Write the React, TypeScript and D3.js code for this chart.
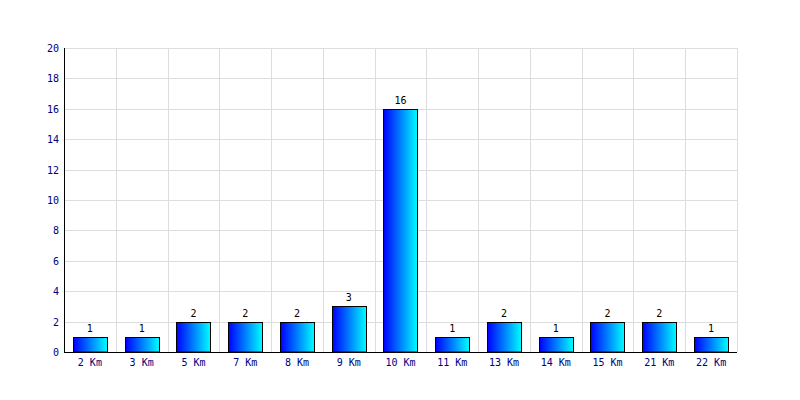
import React from "react";
import * as d3 from "d3";

const categories = ["2 Km", "3 Km", "5 Km", "7 Km", "8 Km", "9 Km", "10 Km", "11 Km", "13 Km", "14 Km", "15 Km", "21 Km", "22 Km"];
const values = [1, 1, 2, 2, 2, 3, 16, 1, 2, 1, 2, 2, 1];
const yTicks = [0, 2, 4, 6, 8, 10, 12, 14, 16, 18, 20];

export default function App() {
  const W = 800, H = 400;
  const left = 64, right = 737, top = 48, bottom = 352;
  const x = d3.scaleBand<string>().domain(categories).range([left, right]).paddingInner(0).paddingOuter(0);
  const y = d3.scaleLinear().domain([0, 20]).range([bottom, top]);
  const bw = x.bandwidth() * 0.66;
  const font = "'DejaVu Sans Mono', monospace";
  return (
    <svg width={W} height={H} style={{ position: "absolute", left: 0, top: 0, background: "#fff" }}>
      <defs>
        <linearGradient id="bg" x1="0" x2="1" y1="0" y2="0">
          <stop offset="0%" stopColor="#0000ff" />
          <stop offset="100%" stopColor="#00ffff" />
        </linearGradient>
      </defs>
      {yTicks.map((t) => (
        <line key={"h" + t} x1={left} x2={right} y1={Math.round(y(t)) + 0.5} y2={Math.round(y(t)) + 0.5} stroke="#dddddd" />
      ))}
      {categories.map((c) => (
        <line key={"v" + c} x1={Math.round(x(c)! + x.bandwidth()) + 0.5} x2={Math.round(x(c)! + x.bandwidth()) + 0.5} y1={top} y2={bottom} stroke="#dddddd" />
      ))}
      {categories.map((c, i) => {
        const cx = x(c)! + x.bandwidth() / 2;
        const x0 = Math.round(cx - bw / 2) + 0.5;
        const yt = Math.round(y(values[i])) + 0.5;
        return (
          <g key={c}>
            <rect x={x0} y={yt} width={Math.round(bw)} height={bottom - yt} fill="url(#bg)" stroke="#000" strokeWidth={1} />
            <text x={cx} y={yt - 6} textAnchor="middle" fontFamily={font} fontSize={10} fill="#000">{values[i]}</text>
            <text x={cx} y={366} textAnchor="middle" fontFamily={font} fontSize={10} fill="#000080">{c}</text>
          </g>
        );
      })}
      {yTicks.map((t) => (
        <text key={"t" + t} x={59} y={y(t) + 4} textAnchor="end" fontFamily={font} fontSize={10} fill="#000080">{t}</text>
      ))}
      <line x1={left + 0.5} x2={left + 0.5} y1={top} y2={bottom + 0.5} stroke="#000" />
      <line x1={left} x2={right} y1={bottom + 0.5} y2={bottom + 0.5} stroke="#000" />
    </svg>
  );
}
